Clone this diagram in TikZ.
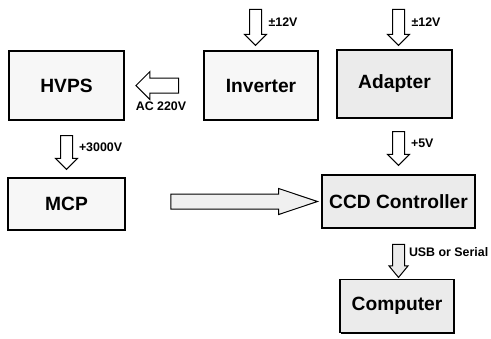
\documentclass[tikz,border=0pt]{standalone}
\usepackage{fontspec}
\setmainfont{Liberation Sans}
\usetikzlibrary{calc, shapes.arrows, shadows}
\tikzset{
  every picture/.style={font=\bfseries, line width=0.5pt},
  block/.style={draw, fill=#1, line width=0.7pt, inner sep=0pt,
    font=\fontsize{9.6}{11}\selectfont\bfseries,
    drop shadow={shadow xshift=0.7pt, shadow yshift=-0.7pt, fill=black, opacity=1}},
  block/.default=black!3,
  fat/.style={single arrow, draw, fill=#1, inner xsep=0pt, inner ysep=2.75pt,
    minimum width=10.5pt, single arrow head extend=2.5pt},
  fat/.default=white,
  lbl/.style={inner sep=0pt, font=\fontsize{6.2}{7}\selectfont\bfseries},
}
% block arrow named #2 from coordinate #3 to coordinate #4
\newcommand\fatarrow[4][]{%
  \path let \p1=($(#4)-(#3)$) in ($(#3)!.5!(#4)$)
    node[fat, #1, minimum height={veclen(\x1,\y1)}, rotate={atan2(\y1,\x1)}] (#2) {};}

\begin{document}
\begin{tikzpicture}[x=0.5pt, y=-0.5pt]
  \useasboundingbox (0,0) rectangle (491,338);
  % boxes
  \node[block, minimum width=57.5pt, minimum height=34.5pt] (hvps) at (66.5,85.5) {HVPS};
  \node[block, minimum width=57pt, minimum height=34.5pt] (inv) at (261,85.5) {Inverter};
  \node[block=black!8, minimum width=57.5pt, minimum height=34pt] (adapter) at (394.5,84) {Adapter};
  \node[block, minimum width=58.5pt, minimum height=26pt] (mcp) at (66.5,204) {MCP};
  \node[block=black!8, minimum width=76.5pt, minimum height=26.5pt] (ccd) at (398.5,201.5) {CCD Controller};
  \node[block=black!8, minimum width=57pt, minimum height=26.5pt] (pc) at (397,306) {Computer};

  % arrow ends
  \coordinate (inv in) at ($(inv.north)+(-5.5,-44)$);
  \coordinate (inv top) at ($(inv.north)+(-5.5,-8)$);
  \coordinate (ad in) at ($(adapter.north)+(4,-43)$);
  \coordinate (ad top) at ($(adapter.north)+(4,-7)$);
  \coordinate (ac start) at ($(inv.west)+(-21,0)$);
  \coordinate (ac end) at ($(hvps.east)+(15,0)$);
  \coordinate (hv out) at ($(hvps.south)+(0,12)$);
  \coordinate (mcp top) at ($(mcp.north)+(0,-11)$);
  \coordinate (ad out) at ($(ccd.north |- adapter.south)+(0,10)$);
  \coordinate (ccd top) at ($(ccd.north)+(0,-12)$);
  \coordinate (mcp out) at ($(mcp.east |- ccd.west)+(34,0)$);
  \coordinate (ccd left) at ($(ccd.west)+(-15,0)$);
  \coordinate (ccd out) at ($(ccd.south)+(0,12)$);
  \coordinate (pc top) at ($(ccd.south |- pc.north)+(0,-5)$);

  % arrows
  \fatarrow{a12inv}{inv in}{inv top}
  \fatarrow{a12ad}{ad in}{ad top}
  \fatarrow[inner ysep=3.5pt, minimum width=13.5pt, single arrow head extend=3.25pt]{aac}{ac start}{ac end}
  \fatarrow{a3000}{hv out}{mcp top}
  \fatarrow{a5}{ad out}{ccd top}
  \fatarrow[fill=black!6, inner ysep=3.5pt, minimum width=12.5pt, single arrow head extend=2.75pt, single arrow tip angle=37]{amcp}{mcp out}{ccd left}
  \fatarrow[fill=black!8, minimum width=9pt, single arrow head extend=1.75pt, single arrow tip angle=79]{ausb}{ccd out}{pc top}

  % labels
  \node[lbl, right=6.3pt, yshift=1.3pt] (l12inv) at (a12inv.center) {±12V};
  \node[lbl, right=6.3pt, yshift=1.3pt] (l12ad) at (a12ad.center) {±12V};
  \node[lbl, below=8pt] (lac) at (aac.center) {AC 220V};
  \node[lbl, right=6pt, yshift=1.3pt] (l3000) at (a3000.center) {+3000V};
  \node[lbl, right=6pt, yshift=1.3pt] (l5) at (a5.center) {+5V};
  \node[lbl, right=5pt, yshift=2.5pt] (lusb) at (ausb.center) {USB or Serial};
\end{tikzpicture}
\end{document}
